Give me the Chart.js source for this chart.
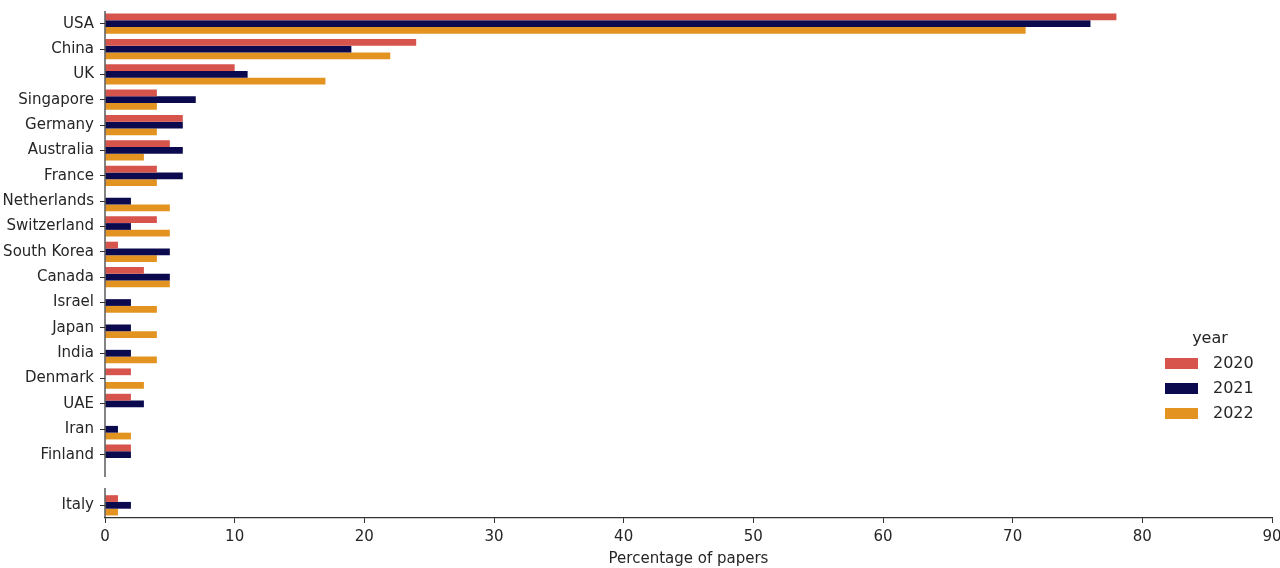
<!DOCTYPE html>
<html lang="en">
<head>
  <meta charset="UTF-8">
  <title>Percentage of papers by country</title>
  <script src="https://cdn.jsdelivr.net/npm/chart.js"></script>
  <style>
    html, body { margin: 0; padding: 0; background: #fff; }
    #wrap { width: 1280px; height: 568px; }
  </style>
</head>
<body>
  <div id="wrap"><canvas id="countryChart" width="1280" height="568"></canvas></div>

  <script>
    // '' is the empty slot that splits Italy off from the rest
    const countries = ['USA', 'China', 'UK', 'Singapore', 'Germany', 'Australia', 'France',
      'Netherlands', 'Switzerland', 'South Korea', 'Canada', 'Israel', 'Japan', 'India',
      'Denmark', 'UAE', 'Iran', 'Finland', '', 'Italy'];
    const years = ['2020', '2021', '2022'];
    const pct2020 = [78, 24, 10, 4, 6, 5, 4, 0, 4, 1, 3, 0, 0, 0, 2, 2, 0, 2, null, 1];
    const pct2021 = [76, 19, 11, 7, 6, 6, 6, 2, 2, 5, 5, 2, 2, 2, 0, 3, 1, 2, null, 2];
    const pct2022 = [71, 22, 17, 4, 4, 3, 4, 5, 5, 4, 5, 4, 4, 4, 3, 0, 2, 0, null, 1];
    const xTicks = [0, 10, 20, 30, 40, 50, 60, 70, 80, 90];

    const colors = ['#d6544c', '#0c0a4f', '#e3931f'];
    const inkColor = '#262626';
    const font = { family: 'DejaVu Sans', size: 15 };

    // left spine with a break at the empty slot
    const spinePlugin = {
      id: 'spine',
      afterDraw(chart) {
        const { ctx, chartArea } = chart;
        const y = chart.scales.y;
        const gapY = y.getPixelForValue(countries.indexOf(''));
        ctx.save();
        ctx.strokeStyle = '#333';
        ctx.lineWidth = 1.2;
        ctx.beginPath();
        ctx.moveTo(chartArea.left, chartArea.top);
        ctx.lineTo(chartArea.left, gapY - 3);
        ctx.moveTo(chartArea.left, gapY + 8);
        ctx.lineTo(chartArea.left, chartArea.bottom);
        ctx.stroke();
        ctx.restore();
      }
    };

    // legend drawn inside the plot, centre right
    const legendPlugin = {
      id: 'yearLegend',
      afterDraw(chart) {
        const { ctx } = chart;
        ctx.save();
        ctx.font = '16px "DejaVu Sans"';
        ctx.fillStyle = inkColor;
        ctx.textAlign = 'center';
        ctx.textBaseline = 'middle';
        ctx.fillText('year', 1210, 339);
        ctx.textAlign = 'left';
        years.forEach((yr, i) => {
          const cy = 364 + i * 25;
          ctx.fillStyle = colors[i];
          ctx.fillRect(1165, cy - 6, 33, 11);
          ctx.fillStyle = inkColor;
          ctx.fillText(yr, 1213, cy);
        });
        ctx.restore();
      }
    };

    const ctx = document.getElementById('countryChart').getContext('2d');
    new Chart(ctx, {
      type: 'bar',
      data: {
        labels: countries,
        datasets: [
          { label: years[0], data: pct2020, backgroundColor: colors[0] },
          { label: years[1], data: pct2021, backgroundColor: colors[1] },
          { label: years[2], data: pct2022, backgroundColor: colors[2] }
        ]
      },
      options: {
        indexAxis: 'y',
        responsive: false,
        animation: false,
        categoryPercentage: 0.8,
        barPercentage: 1.0,
        layout: { padding: { top: 11, right: 8, left: 0, bottom: 0 } },
        plugins: {
          legend: { display: false },
          tooltip: { enabled: false }
        },
        scales: {
          x: {
            min: 0,
            max: 90,
            afterBuildTicks(scale) {
              scale.ticks = xTicks.map(v => ({ value: v }));
            },
            afterFit(scale) {
              scale.height = 50;
              scale.paddingLeft = 0;
              scale.paddingRight = 0;
            },
            border: { display: true, color: '#333', width: 1.2 },
            grid: { drawOnChartArea: false, drawTicks: true, tickLength: 5, color: '#333' },
            ticks: { color: inkColor, font: font, padding: 5, maxRotation: 0 },
            title: { display: true, text: 'Percentage of papers', color: inkColor, font: font, padding: { top: 0, bottom: 0 } }
          },
          y: {
            afterFit(scale) {
              scale.width = 105;
              scale.paddingTop = 0;
              scale.paddingBottom = 0;
            },
            border: { display: false },
            grid: {
              offset: false,
              drawOnChartArea: false,
              drawTicks: true,
              tickLength: 5,
              tickColor: c => (countries[c.index] === '' ? 'rgba(0,0,0,0)' : '#333')
            },
            ticks: { color: inkColor, font: font, padding: 6, autoSkip: false }
          }
        }
      },
      plugins: [spinePlugin, legendPlugin]
    });
  </script>
</body>
</html>
